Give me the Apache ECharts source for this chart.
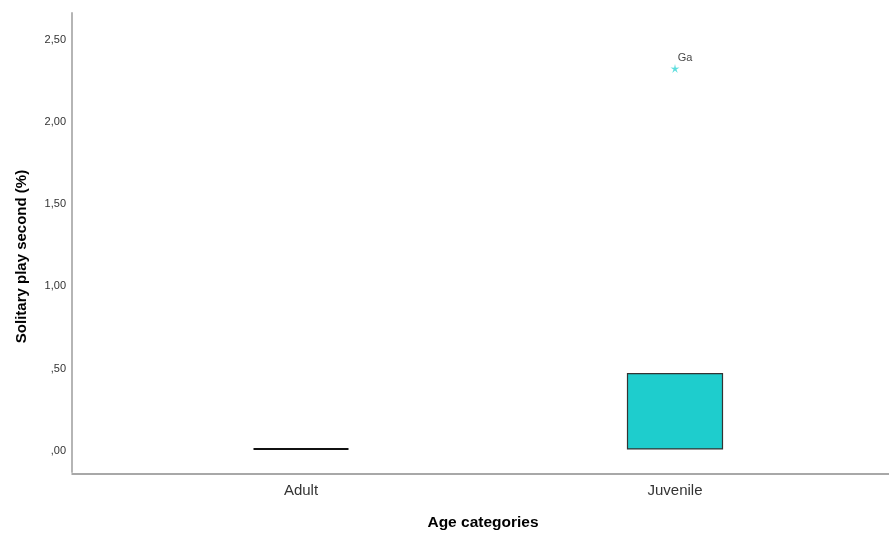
<!DOCTYPE html>
<html>
<head>
<meta charset="utf-8">
<script src="https://cdn.jsdelivr.net/npm/echarts@6/dist/echarts.min.js"></script>
<style>html,body{margin:0;padding:0;background:#fff}#c{width:889px;height:536px}</style>
</head>
<body>
<div id="c"></div>
<script>
var categories = ['Adult', 'Juvenile'];
var adultStats = [0, 0, 0, 0, 0];
var juvenileStats = [0, 0, 0, 0.458, 0.458];
var outlierPoints = [[1, 2.313, 'Ga']];
var yTickValues = [0, 0.5, 1, 1.5, 2, 2.5];
var yTickLabels = [',00', ',50', '1,00', '1,50', '2,00', '2,50'];
var yMin = -0.14, yMax = 2.65;

var FONT = '"Liberation Sans", Arial, sans-serif';
var starPath = 'path://M10 0 L11.8 7.5 L19.51 6.91 L13 11 L15.88 18.09 L10 13.2 L4.12 18.09 L7 11 L0.49 6.91 L8.2 7.5 Z';

var chart = echarts.init(document.getElementById('c'), null, {renderer: 'canvas'});
chart.setOption({
  backgroundColor: '#fff',
  animation: false,
  grid: [
    {left: 114, right: 27, top: 13, bottom: 62},
    {left: 72, right: 0, top: 13, bottom: 62}
  ],
  xAxis: [{
    type: 'category',
    gridIndex: 0,
    data: categories,
    boundaryGap: true,
    axisLine: {show: false},
    axisTick: {show: false},
    splitLine: {show: false},
    axisLabel: {color: '#333', fontFamily: FONT, fontSize: 15, margin: 11},
    name: 'Age categories',
    nameLocation: 'middle',
    nameGap: 43,
    nameTextStyle: {color: '#000', fontFamily: FONT, fontSize: 15.5, fontWeight: 'bold', padding: [0, 10, 0, 0]}
  }, {
    type: 'value',
    gridIndex: 1,
    min: 0, max: 1,
    axisLine: {show: true, onZero: false, lineStyle: {color: '#8c8c8c', width: 1.5}},
    axisTick: {show: false},
    axisLabel: {show: false},
    splitLine: {show: false}
  }],
  yAxis: [{
    type: 'value',
    gridIndex: 0,
    min: yMin,
    max: yMax,
    offset: 42,
    axisLine: {show: true, lineStyle: {color: '#b5b5b5', width: 2}},
    axisTick: {show: false},
    splitLine: {show: false},
    axisLabel: {
      customValues: yTickValues,
      color: '#333', fontFamily: FONT, fontSize: 11, margin: 6,
      formatter: function (v) {
        var i = yTickValues.findIndex(function (t) { return Math.abs(t - v) < 1e-6; });
        return i >= 0 ? '{t|' + yTickLabels[i] + '}' : '';
      },
      rich: {t: {color: '#333', fontFamily: FONT, fontSize: 11, padding: [4, 0, 0, 0]}}
    },
    name: 'Solitary play second (%)',
    nameLocation: 'middle',
    nameGap: 43,
    nameTextStyle: {color: '#000', fontFamily: FONT, fontSize: 15, fontWeight: 'bold', padding: [0, 28, 0, 0]}
  }, {
    type: 'value',
    gridIndex: 1,
    show: false,
    min: 0, max: 1
  }],
  series: [{
    type: 'boxplot',
    xAxisIndex: 0,
    yAxisIndex: 0,
    boxWidth: [95, 95],
    data: [
      {value: adultStats, itemStyle: {color: '#fff', borderColor: '#111', borderWidth: 2}},
      {value: juvenileStats, itemStyle: {color: '#1ecdcd', borderColor: '#333', borderWidth: 1.2}}
    ]
  }, {
    type: 'scatter',
    xAxisIndex: 0,
    yAxisIndex: 0,
    symbol: starPath,
    symbolSize: 9,
    itemStyle: {color: '#33d4d4'},
    label: {
      show: true,
      position: 'top',
      distance: 2,
      offset: [10, 2],
      color: '#111',
      fontFamily: FONT,
      fontSize: 11,
      formatter: function (p) { return p.data[2]; }
    },
    data: outlierPoints
  }]
});
</script>
</body>
</html>
